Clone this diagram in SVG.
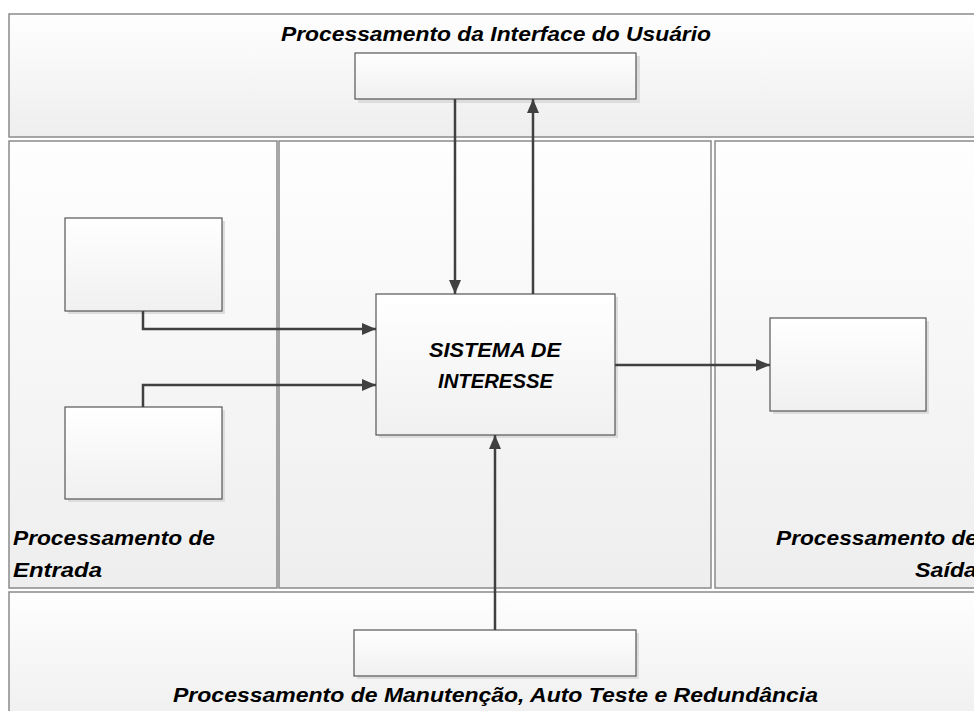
<svg xmlns="http://www.w3.org/2000/svg" width="974" height="711" viewBox="0 0 974 711">
  <defs>
    <linearGradient id="gPanel" x1="0" y1="0" x2="0" y2="1">
      <stop offset="0" stop-color="#fefefe"/>
      <stop offset="1" stop-color="#eeeeee"/>
    </linearGradient>
    <linearGradient id="gBox" x1="0" y1="0" x2="0" y2="1">
      <stop offset="0" stop-color="#ffffff"/>
      <stop offset="1" stop-color="#f0f0f0"/>
    </linearGradient>
    <marker id="arr" markerUnits="userSpaceOnUse" markerWidth="14" markerHeight="12" viewBox="0 0 14 12" refX="14" refY="6" orient="auto">
      <path d="M0,0 L14,6 L0,12 Z" fill="#404040"/>
    </marker>
  </defs>
  <style>
    .panel { fill: url(#gPanel); stroke: #8a8a8a; stroke-width: 1.5; }
    .box { fill: url(#gBox); stroke: #555555; stroke-width: 1.2; }
    .shadow { fill: #dddddd; }
    .conn { fill: none; stroke: #404040; stroke-width: 2.5; marker-end: url(#arr); }
    .lbl { font-family: "Liberation Sans", Arial, sans-serif; font-weight: bold; font-style: italic; font-size: 20px; fill: #000000; }
  </style>
  <rect width="974" height="711" fill="#ffffff"/>

  <g id="panel-top">
    <rect class="panel" x="9" y="14" width="980" height="123"/>
    <text class="lbl" x="281" y="41" textLength="430" lengthAdjust="spacingAndGlyphs">Processamento da Interface do Usuário</text>
  </g>
  <g id="panel-left">
    <rect class="panel" x="9" y="141" width="268" height="447"/>
    <text class="lbl" x="13" y="545" textLength="202" lengthAdjust="spacingAndGlyphs">Processamento de</text>
    <text class="lbl" x="13" y="577" textLength="89" lengthAdjust="spacingAndGlyphs">Entrada</text>
  </g>
  <g id="panel-middle">
    <rect class="panel" x="279" y="141" width="432" height="447"/>
  </g>
  <g id="panel-right">
    <rect class="panel" x="715" y="141" width="280" height="447"/>
    <text class="lbl" x="776" y="545" textLength="202" lengthAdjust="spacingAndGlyphs">Processamento de</text>
    <text class="lbl" x="915" y="577" textLength="62" lengthAdjust="spacingAndGlyphs">Saída</text>
  </g>
  <g id="panel-bottom">
    <rect class="panel" x="9" y="592" width="980" height="140"/>
    <text class="lbl" x="173" y="702" textLength="645" lengthAdjust="spacingAndGlyphs">Processamento de Manutenção, Auto Teste e Redundância</text>
  </g>

  <g id="box-ui">
    <rect class="shadow" x="358" y="56" width="282" height="47"/>
    <rect class="box" x="355" y="53" width="281" height="46"/>
  </g>
  <g id="box-in1">
    <rect class="shadow" x="68" y="221" width="157" height="93"/>
    <rect class="box" x="65" y="218" width="157" height="93"/>
  </g>
  <g id="box-in2">
    <rect class="shadow" x="68" y="410" width="157" height="92"/>
    <rect class="box" x="65" y="407" width="157" height="92"/>
  </g>
  <g id="box-system">
    <rect class="shadow" x="379" y="297" width="239" height="141"/>
    <rect class="box" x="376" y="294" width="239" height="141"/>
    <text class="lbl" x="429" y="357" font-size="21" textLength="132" lengthAdjust="spacingAndGlyphs">SISTEMA DE</text>
    <text class="lbl" x="438" y="388" font-size="21" textLength="115" lengthAdjust="spacingAndGlyphs">INTERESSE</text>
  </g>
  <g id="box-out">
    <rect class="shadow" x="773" y="321" width="156" height="93"/>
    <rect class="box" x="770" y="318" width="156" height="93"/>
  </g>
  <g id="box-maint">
    <rect class="shadow" x="357" y="633" width="282" height="46"/>
    <rect class="box" x="354" y="630" width="282" height="46"/>
  </g>

  <g id="connectors">
    <path class="conn" d="M455,99 L455,294"/>
    <path class="conn" d="M533,294 L533,99"/>
    <path class="conn" d="M143,311 L143,329 L376,329"/>
    <path class="conn" d="M143,407 L143,385 L376,385"/>
    <path class="conn" d="M615,365 L770,365"/>
    <path class="conn" d="M495,630 L495,435"/>
  </g>
</svg>
